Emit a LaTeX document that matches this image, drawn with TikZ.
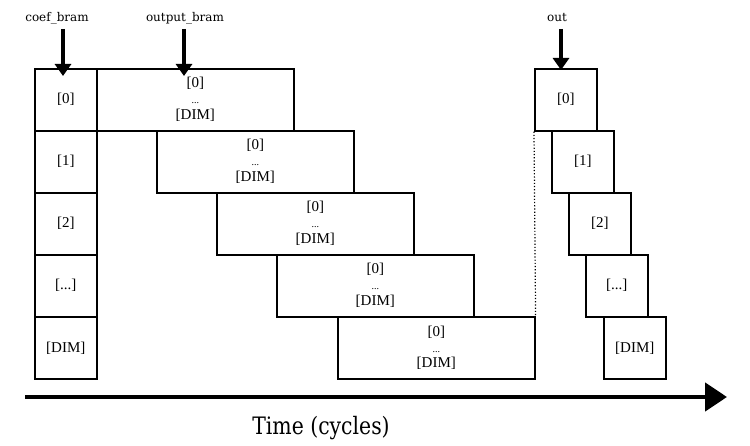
\documentclass[tikz,border=0pt]{standalone}
\usepackage{fontspec}
\setmainfont{Liberation Serif}
\newfontfamily\labfont{DejaVu Serif}
\newfontfamily\timefont{DejaVu Serif}[FakeStretch=0.85]
\usetikzlibrary{arrows.meta}
\newcommand{\rng}{[0]\\{\fontsize{10}{16}\selectfont ...}\\{[DIM]}}

\begin{document}
\begin{tikzpicture}[x=1pt,y=-1pt,
  cell/.style={draw,line width=1.6pt,anchor=north west,minimum width=62pt,
    minimum height=62pt,inner sep=0pt,font=\fontsize{15}{16}\selectfont},
  wide/.style={cell,minimum width=197pt,align=center},
  lab/.style={font=\labfont\fontsize{12}{14}\selectfont},
  down/.style={-{Triangle[length=12pt,width=16pt]},line width=3.5pt},
  timeax/.style={-{Triangle[length=22pt,width=28pt]},line width=4.5pt}]
  \useasboundingbox (0,0) rectangle (750,446);
  % coefficient column
  \node[cell] (c0) at (34,68) {[0]};
  \node[cell] (c1) at (34,130) {[1]};
  \node[cell] (c2) at (34,192) {[2]};
  \node[cell] (c3) at (34,254) {[...]};
  \node[cell] (c4) at (34,316) {[DIM]};
  % output bram accesses
  \node[wide] (w0) at (96,68) {\rng};
  \node[wide] (w1) at (156,130) {\rng};
  \node[wide] (w2) at (216,192) {\rng};
  \node[wide] (w3) at (276,254) {\rng};
  \node[wide] (w4) at (337,316) {\rng};
  % outputs
  \node[cell] (o0) at (534,68) {[0]};
  \node[cell] (o1) at (551,130) {[1]};
  \node[cell] (o2) at (568,192) {[2]};
  \node[cell] (o3) at (585,254) {[...]};
  \node[cell] (o4) at (603,316) {[DIM]};
  \draw[dotted,line width=1.2pt] (o0.south west) -- (w4.north east);
  % labels and arrows
  \node[lab] (coeflab) at (57,18) {coef\_bram};
  \node[lab] (outblab) at (185,18) {output\_bram};
  \node[lab] (outlab) at (557,18) {out};
  \coordinate (ca) at (63,29);
  \coordinate (wa) at (184,29);
  \coordinate (oa) at (561,29);
  \draw[down] (ca) -- ([yshift=-8pt]ca |- c0.north);
  \draw[down] (wa) -- ([yshift=-8pt]wa |- w0.north);
  \draw[down] (oa) -- ([yshift=-2pt]oa |- o0.north);
  % time axis
  \coordinate (t0) at (25,397);
  \coordinate (t1) at (727,397);
  \draw[timeax] (t0) -- (t1);
  \node[font=\timefont\fontsize{24}{28}\selectfont] (tlab) at (321,428) {Time (cycles)};
\end{tikzpicture}
\end{document}
